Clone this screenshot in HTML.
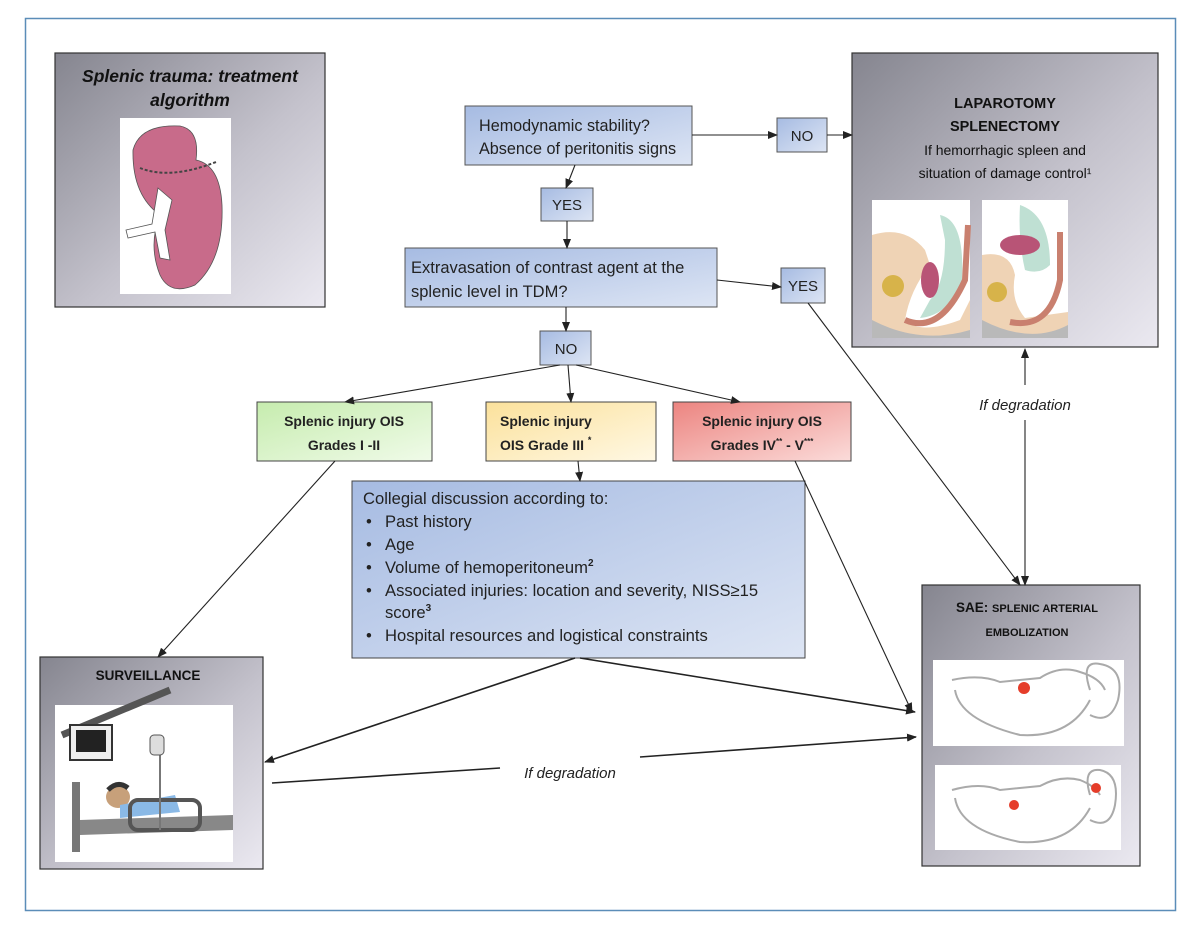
<!DOCTYPE html>
<html><head><meta charset="utf-8"><style>
html,body{margin:0;padding:0;background:#fff;}
svg{display:block;font-family:"Liberation Sans",sans-serif;}
</style></head><body>
<svg width="1200" height="936" viewBox="0 0 1200 936" xmlns="http://www.w3.org/2000/svg">
<defs>
<linearGradient id="gray" x1="0" y1="0" x2="1" y2="1"><stop offset="0" stop-color="#85858f"/><stop offset="0.55" stop-color="#c4c2cc"/><stop offset="1" stop-color="#ebe9f1"/></linearGradient>
<linearGradient id="blue" x1="0" y1="0" x2="1" y2="1"><stop offset="0" stop-color="#a6bbe2"/><stop offset="1" stop-color="#dde5f4"/></linearGradient>
<linearGradient id="green" x1="0" y1="0" x2="1" y2="1"><stop offset="0" stop-color="#c6ecae"/><stop offset="1" stop-color="#f0fbe9"/></linearGradient>
<linearGradient id="yellow" x1="0" y1="0" x2="1" y2="1"><stop offset="0" stop-color="#fbe19b"/><stop offset="1" stop-color="#fff8e4"/></linearGradient>
<linearGradient id="red" x1="0" y1="0" x2="1" y2="1"><stop offset="0" stop-color="#ec8480"/><stop offset="1" stop-color="#fbdcda"/></linearGradient>
<marker id="ar" markerWidth="10" markerHeight="8" refX="9" refY="4" orient="auto" markerUnits="userSpaceOnUse"><path d="M0,0 L10,4 L0,8 z" fill="#222"/></marker>
</defs>
<rect x="25.5" y="18.5" width="1150" height="892" fill="#fff" stroke="#5b8db8" stroke-width="1.5"/>

<!-- title box -->
<rect x="55" y="53" width="270" height="254" fill="url(#gray)" stroke="#333" stroke-width="1.2"/>
<text x="190" y="82" text-anchor="middle" font-size="17.5" font-weight="bold" font-style="italic" fill="#111">Splenic trauma: treatment</text>
<text x="190" y="106" text-anchor="middle" font-size="17.5" font-weight="bold" font-style="italic" fill="#111">algorithm</text>
<rect x="120" y="118" width="111" height="176" fill="#fff"/>
<path d="M133,150 Q140,124 180,126 Q200,130 196,160 Q220,165 222,205 Q224,260 195,285 Q170,296 160,275 Q148,245 160,215 Q132,195 133,150z" fill="#c86b8a" stroke="#555" stroke-width="0.8"/>
<path d="M140,168 Q170,180 216,162" stroke="#444" stroke-width="2" fill="none" stroke-dasharray="3,2"/>
<path d="M158,188 L172,200 L165,230 L170,260 L160,258 L155,232 L128,238 L126,230 L152,224 Z" fill="#fff" stroke="#555" stroke-width="0.8"/>

<!-- hemodynamic -->
<rect x="465" y="106" width="227" height="59" fill="url(#blue)" stroke="#555" stroke-width="1"/>
<text x="479" y="131" font-size="16.2" fill="#222">Hemodynamic stability?</text>
<text x="479" y="154" font-size="16.2" fill="#222">Absence of peritonitis signs</text>
<rect x="777" y="118" width="50" height="34" fill="url(#blue)" stroke="#555" stroke-width="1"/>
<text x="802" y="141" text-anchor="middle" font-size="15" fill="#222">NO</text>

<!-- laparotomy -->
<rect x="852" y="53" width="306" height="294" fill="url(#gray)" stroke="#333" stroke-width="1.2"/>
<text x="1005" y="108" text-anchor="middle" font-size="14.5" font-weight="bold" fill="#111">LAPAROTOMY</text>
<text x="1005" y="131" text-anchor="middle" font-size="14.5" font-weight="bold" fill="#111">SPLENECTOMY</text>
<text x="1005" y="155" text-anchor="middle" font-size="14" fill="#111">If hemorrhagic spleen and</text>
<text x="1005" y="178" text-anchor="middle" font-size="14" fill="#111">situation of damage control¹</text>
<rect x="872" y="200" width="98" height="138" fill="#fff"/>
<path d="M940,215 Q965,220 962,280 Q950,315 920,318 L930,300 Q945,285 945,240Z" fill="#bfe0d3"/>
<path d="M872,235 Q905,225 925,250 L930,265 Q910,290 905,320 Q920,335 960,320 L970,300 L970,338 L872,338Z" fill="#efd3b5"/>
<path d="M872,320 Q920,345 970,330 L970,338 L872,338Z" fill="#b9b9b9"/>
<path d="M905,320 Q940,335 965,280 L968,225" stroke="#c9806f" stroke-width="6" fill="none"/>
<circle cx="893" cy="286" r="11" fill="#d7b34a"/>
<ellipse cx="930" cy="280" rx="9" ry="18" fill="#b85476"/>
<rect x="982" y="200" width="86" height="138" fill="#fff"/>
<path d="M1020,205 Q1050,215 1050,265 Q1040,275 1025,270 Q1018,240 1020,205Z" fill="#bfe0d3"/>
<ellipse cx="1020" cy="245" rx="20" ry="10" fill="#b85476"/>
<path d="M982,255 Q1010,250 1015,275 Q1010,300 1025,318 L1068,312 L1068,338 L982,338Z" fill="#efd3b5"/>
<path d="M982,320 Q1030,345 1068,325 L1068,338 L982,338Z" fill="#b9b9b9"/>
<path d="M1010,322 Q1050,330 1060,280 L1060,232" stroke="#c9806f" stroke-width="6" fill="none"/>
<circle cx="997" cy="292" r="10" fill="#d7b34a"/>

<!-- YES -->
<rect x="541" y="188" width="52" height="33" fill="url(#blue)" stroke="#555" stroke-width="1"/>
<text x="567" y="210" text-anchor="middle" font-size="15" fill="#222">YES</text>

<!-- extravasation -->
<rect x="405" y="248" width="312" height="59" fill="url(#blue)" stroke="#555" stroke-width="1"/>
<text x="411" y="273" font-size="16.5" fill="#222">Extravasation  of contrast agent at the</text>
<text x="411" y="297" font-size="16.5" fill="#222">splenic level in TDM?</text>
<rect x="781" y="268" width="44" height="35" fill="url(#blue)" stroke="#555" stroke-width="1"/>
<text x="803" y="291" text-anchor="middle" font-size="15" fill="#222">YES</text>
<rect x="540" y="331" width="51" height="34" fill="url(#blue)" stroke="#555" stroke-width="1"/>
<text x="566" y="354" text-anchor="middle" font-size="15" fill="#222">NO</text>

<!-- OIS boxes -->
<rect x="257" y="402" width="175" height="59" fill="url(#green)" stroke="#444" stroke-width="1"/>
<text x="344" y="426" text-anchor="middle" font-size="14" font-weight="bold" fill="#222">Splenic injury OIS</text>
<text x="344" y="450" text-anchor="middle" font-size="14" font-weight="bold" fill="#222">Grades I -II</text>
<rect x="486" y="402" width="170" height="59" fill="url(#yellow)" stroke="#444" stroke-width="1"/>
<text x="500" y="426" font-size="14" font-weight="bold" fill="#222">Splenic injury</text>
<text x="500" y="450" font-size="14" font-weight="bold" fill="#222">OIS Grade III <tspan font-size="9" dy="-7">*</tspan></text>
<rect x="673" y="402" width="178" height="59" fill="url(#red)" stroke="#444" stroke-width="1"/>
<text x="762" y="426" text-anchor="middle" font-size="14" font-weight="bold" fill="#222">Splenic injury OIS</text>
<text x="762" y="450" text-anchor="middle" font-size="14" font-weight="bold" fill="#222">Grades IV<tspan font-size="8" dy="-6">**</tspan><tspan dy="6"> - V</tspan><tspan font-size="8" dy="-6">***</tspan></text>

<!-- collegial -->
<rect x="352" y="481" width="453" height="177" fill="url(#blue)" stroke="#444" stroke-width="1"/>
<g font-size="16.6" fill="#222">
<text x="363" y="504">Collegial discussion according to:</text>
<text x="366" y="527">•</text><text x="385" y="527">Past history</text>
<text x="366" y="550">•</text><text x="385" y="550">Age</text>
<text x="366" y="573">•</text><text x="385" y="573">Volume of hemoperitoneum<tspan font-size="10" dy="-7" font-weight="bold">2</tspan></text>
<text x="366" y="596">•</text><text x="385" y="596">Associated injuries: location and severity,  NISS≥15</text>
<text x="385" y="618">score<tspan font-size="10" dy="-7" font-weight="bold">3</tspan></text>
<text x="366" y="641">•</text><text x="385" y="641">Hospital resources and logistical constraints</text>
</g>

<!-- surveillance -->
<rect x="40" y="657" width="223" height="212" fill="url(#gray)" stroke="#333" stroke-width="1.2"/>
<text x="148" y="680" text-anchor="middle" font-size="13.5" font-weight="bold" fill="#111">SURVEILLANCE</text>
<rect x="55" y="705" width="178" height="157" fill="#fff"/>
<path d="M62,735 L170,690" stroke="#555" stroke-width="7"/>
<rect x="70" y="725" width="42" height="35" fill="#eee" stroke="#333" stroke-width="2"/>
<rect x="76" y="730" width="30" height="22" fill="#222"/>
<rect x="72" y="782" width="8" height="70" fill="#777"/>
<path d="M80,820 L233,815 L233,830 L80,835Z" fill="#888"/>
<ellipse cx="118" cy="797" rx="12" ry="11" fill="#c7a07a"/>
<path d="M108,790 Q118,780 128,788" stroke="#333" stroke-width="5" fill="none"/>
<path d="M120,805 L175,795 L180,812 L120,818Z" fill="#8ab9e6"/>
<rect x="130" y="800" width="70" height="30" rx="8" fill="none" stroke="#555" stroke-width="4"/>
<line x1="160" y1="740" x2="160" y2="830" stroke="#777" stroke-width="2"/>
<rect x="150" y="735" width="14" height="20" rx="4" fill="#ddd" stroke="#555"/>

<!-- SAE -->
<rect x="922" y="585" width="218" height="281" fill="url(#gray)" stroke="#333" stroke-width="1.2"/>
<text x="1027" y="612" text-anchor="middle" font-size="13.5" font-weight="bold" fill="#111">SAE: <tspan font-size="11">SPLENIC ARTERIAL</tspan></text>
<text x="1027" y="636" text-anchor="middle" font-size="11" font-weight="bold" fill="#111">EMBOLIZATION</text>
<rect x="933" y="660" width="191" height="86" fill="#fff"/>
<path d="M952,680 Q980,674 1000,682 L1040,678 Q1060,665 1080,672 Q1100,678 1105,690 M955,690 Q960,720 1020,735 Q1070,738 1090,700 M1090,690 Q1080,660 1100,664 Q1125,668 1118,700 Q1110,725 1090,715" stroke="#aaa" stroke-width="2" fill="none"/>
<circle cx="1024" cy="688" r="6" fill="#e53d2a"/>
<rect x="935" y="765" width="186" height="85" fill="#fff"/>
<path d="M952,790 Q980,782 1000,790 L1040,786 Q1060,775 1080,780 Q1095,786 1100,795 M955,798 Q960,830 1020,842 Q1070,845 1090,808 M1090,795 Q1082,768 1100,770 Q1120,774 1115,805 Q1110,830 1090,820" stroke="#aaa" stroke-width="2" fill="none"/>
<circle cx="1014" cy="805" r="5" fill="#e53d2a"/>
<circle cx="1096" cy="788" r="5" fill="#e53d2a"/>

<!-- connectors -->
<g stroke="#222" stroke-width="1.1" fill="none" marker-end="url(#ar)">
<line x1="575" y1="165" x2="566" y2="188"/>
<line x1="567" y1="221" x2="567" y2="248"/>
<line x1="692" y1="135" x2="777" y2="135"/>
<line x1="827" y1="135" x2="852" y2="135"/>
<line x1="717" y1="280" x2="781" y2="287"/>
<line x1="808" y1="303" x2="1020" y2="585"/>
<line x1="566" y1="307" x2="566" y2="331"/>
<line x1="560" y1="365" x2="345" y2="402"/>
<line x1="568" y1="365" x2="571" y2="402"/>
<line x1="576" y1="365" x2="740" y2="402"/>
<line x1="335" y1="461" x2="158" y2="657"/>
<line x1="578" y1="461" x2="580" y2="481"/>
<line x1="795" y1="461" x2="912" y2="712"/>
<line x1="1025" y1="385" x2="1025" y2="349"/>
<line x1="1025" y1="420" x2="1025" y2="585"/>
</g>
<g stroke="#222" stroke-width="1.6" fill="none" marker-end="url(#ar)">
<line x1="580" y1="658" x2="915" y2="712"/>
<line x1="575" y1="658" x2="265" y2="762"/>
<line x1="640" y1="757" x2="916" y2="737"/>
</g>
<line x1="272" y1="783" x2="500" y2="768" stroke="#222" stroke-width="1.6"/>
<text x="1025" y="410" text-anchor="middle" font-size="15" font-style="italic" fill="#222">If degradation</text>
<text x="570" y="778" text-anchor="middle" font-size="15" font-style="italic" fill="#222">If degradation</text>
</svg>
</body></html>
